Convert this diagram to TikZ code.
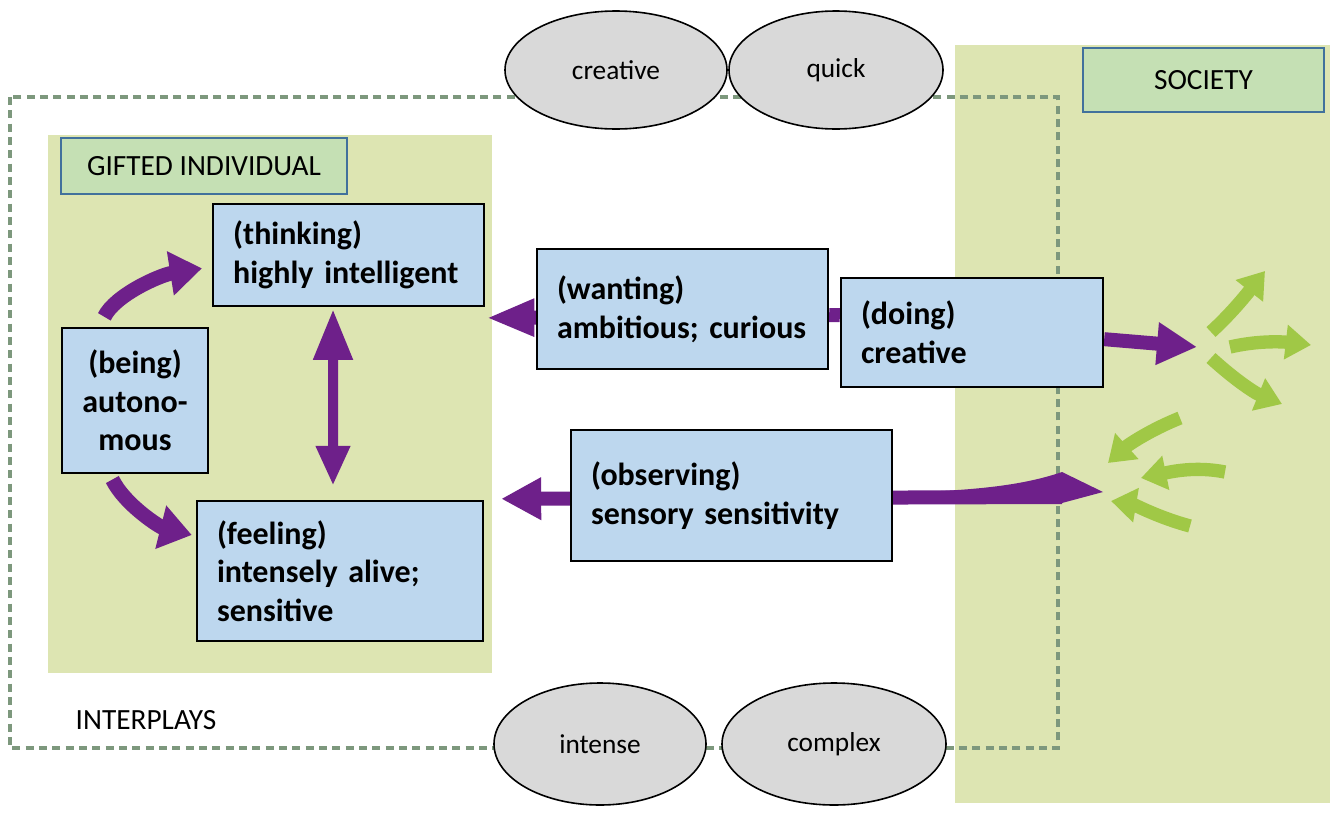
\documentclass[tikz,border=0pt]{standalone}
\usepackage{fontspec}
\setmainfont{Carlito}
\usetikzlibrary{arrows.meta,shapes.geometric}
\definecolor{panelgreen}{RGB}{221,229,178}
\definecolor{boxblue}{RGB}{189,215,238}
\definecolor{labgreen}{RGB}{197,224,180}
\definecolor{labblue}{RGB}{65,113,156}
\definecolor{ellgray}{RGB}{217,217,217}
\definecolor{arrowpurple}{RGB}{110,32,138}
\definecolor{leafgreen}{RGB}{160,200,70}
\definecolor{dashcol}{RGB}{125,152,125}
\pgfdeclarelayer{bg}
\pgfdeclarelayer{arr}
\pgfsetlayers{bg,arr,main}
\tikzset{
  boxnode/.style={draw=black, line width=1.8pt, fill=boxblue, inner xsep=15pt, inner ysep=0pt,
    align=left, font=\fontsize{24}{29}\selectfont\bfseries},
  labnode/.style={draw=labblue, line width=1.5pt, fill=labgreen, inner sep=0pt,
    font=\fontsize{22}{26}\selectfont},
  ellnode/.style={ellipse, draw=black, line width=1.2pt, fill=ellgray, inner sep=0pt,
    font=\fontsize{20.5}{24}\selectfont},
  parrow/.style={draw=arrowpurple, line width=10.5pt, -{Triangle[length=30pt,width=30pt]}},
  pcurve/.style={draw=arrowpurple, line width=11pt, -{Triangle[length=24pt,width=32pt]}},
  pbar/.style={draw=arrowpurple, line width=10.5pt},
  pdouble/.style={draw=arrowpurple, line width=7.5pt,
    {Triangle[length=38pt,width=28pt]}-{Triangle[length=30pt,width=24pt]}},
  garrow/.style={draw=leafgreen, line width=10pt, -{Triangle[length=19pt,width=25pt]}},
  frame/.style={draw=dashcol, line width=2.6pt, dash pattern=on 6pt off 4pt}
}
\begin{document}
\begin{tikzpicture}[x=0.75pt,y=-0.75pt]
\useasboundingbox (0,0) rectangle (1336,814);

\begin{pgfonlayer}{bg}
  \fill[white] (0,0) rectangle (1336,814);
  \fill[panelgreen] (48,135) rectangle (492,673);
  \fill[panelgreen] (955,45) rectangle (1330,803);
  \draw[frame] (10,97) rectangle (1058,748);
\end{pgfonlayer}

% labels
\node[labnode, minimum width=214.5pt, minimum height=42pt] (gifted) at (204,166) {GIFTED INDIVIDUAL};
\node[labnode, minimum width=180.75pt, minimum height=48pt] (society) at (1203.5,80) {SOCIETY};
\node[anchor=west, font=\fontsize{22}{26}\selectfont] (interplays) at (71,720) {INTERPLAYS};

% boxes
\node[boxnode, text width=173pt, minimum height=76.5pt] (thinking) at (348.5,255)
  {(thinking)\\highly intelligent};
\node[boxnode, inner xsep=5pt, text width=99.5pt, align=center, minimum height=108.75pt] (being) at (135,400.5)
  {(being)\\autono-\\mous};
\node[boxnode, text width=184.5pt, minimum height=105pt] (feeling) at (340,571)
  {(feeling)\\intensely alive;\\sensitive};
\node[boxnode, text width=188.25pt, minimum height=90pt] (wanting) at (682.5,309)
  {(wanting)\\ambitious; curious};
\node[boxnode, text width=166.5pt, minimum height=81.75pt] (doing) at (972,332.5)
  {(doing)\\creative};
\node[boxnode, text width=210.75pt, minimum height=98.25pt] (observing) at (731.5,495.5)
  {(observing)\\sensory sensitivity};

% ellipses
\node[ellnode, minimum width=166.5pt, minimum height=88.5pt] (creative) at (616,70) {creative};
\node[ellnode, minimum width=160.5pt, minimum height=88.5pt] (quick) at (836,70) {quick};
\node[ellnode, minimum width=159pt, minimum height=91.5pt] (intense) at (600,744) {intense};
\node[ellnode, minimum width=168pt, minimum height=91.5pt] (complex) at (834,744) {complex};

% free ends
\coordinate (socin) at (1197,347);
\coordinate (obsstart) at (1062,497);
\coordinate (obsend) at (1103,492);
\coordinate (g1a) at (1211,332); \coordinate (g1b) at (1265,271);
\coordinate (g2a) at (1230,347); \coordinate (g2b) at (1311,345);
\coordinate (g3a) at (1211,358); \coordinate (g3b) at (1282,404);
\coordinate (g4a) at (1180,418); \coordinate (g4b) at (1108,463);
\coordinate (g5a) at (1225,472); \coordinate (g5b) at (1141,478);
\coordinate (g6a) at (1190,526); \coordinate (g6b) at (1111,501);

\begin{pgfonlayer}{arr}
  % being -> thinking / feeling
  \draw[pcurve] ([shift={(-23pt,7.5pt)}]being.north) .. controls (115,295) and (160,275) .. ([shift={(-7.5pt,-10pt)}]thinking.west);
  \draw[pcurve] ([shift={(-17pt,-4pt)}]being.south) .. controls (125,505) and (160,527) .. ([shift={(-3pt,27pt)}]feeling.west);
  % thinking <-> feeling
  \draw[pdouble] ([shift={(-11.6pt,-1.5pt)}]thinking.south) -- ([shift={(-5.25pt,10.5pt)}]feeling.north);
  % wanting -> thinking
  \draw[parrow, -{Triangle[length=36pt,width=26pt]}] ([yshift=-6pt]wanting.center) -- ([shift={(1pt,-8pt)}]thinking.south east);
  % wanting -> doing
  \draw[pbar] ([yshift=-4.5pt]wanting.east) -- ([yshift=13pt]doing.west);
  % doing -> society
  \draw[parrow] ([yshift=-5pt]doing.east) -- (socin);
  % society -> observing -> feeling
  \fill[arrowpurple] (890,491.8) -- (930,491.5) .. controls (990,489) and (1030,483) .. (1062,472) -- (obsend) -- (1062,503) -- (890,502.2) -- cycle;
  \draw[parrow] (obsstart) -- ([shift={(12.75pt,0.75pt)}]feeling.north east);
  % green arrows
  \draw[garrow] (g1a) .. controls (1233,312) and (1250,290) .. (g1b);
  \draw[garrow] (g2a) .. controls (1260,340) and (1285,342) .. (g2b);
  \draw[garrow] (g3a) .. controls (1235,380) and (1255,393) .. (g3b);
  \draw[garrow] (g4a) .. controls (1150,430) and (1128,445) .. (g4b);
  \draw[garrow] (g5a) .. controls (1195,466) and (1170,472) .. (g5b);
  \draw[garrow] (g6a) .. controls (1160,518) and (1135,505) .. (g6b);
\end{pgfonlayer}
\end{tikzpicture}
\end{document}
